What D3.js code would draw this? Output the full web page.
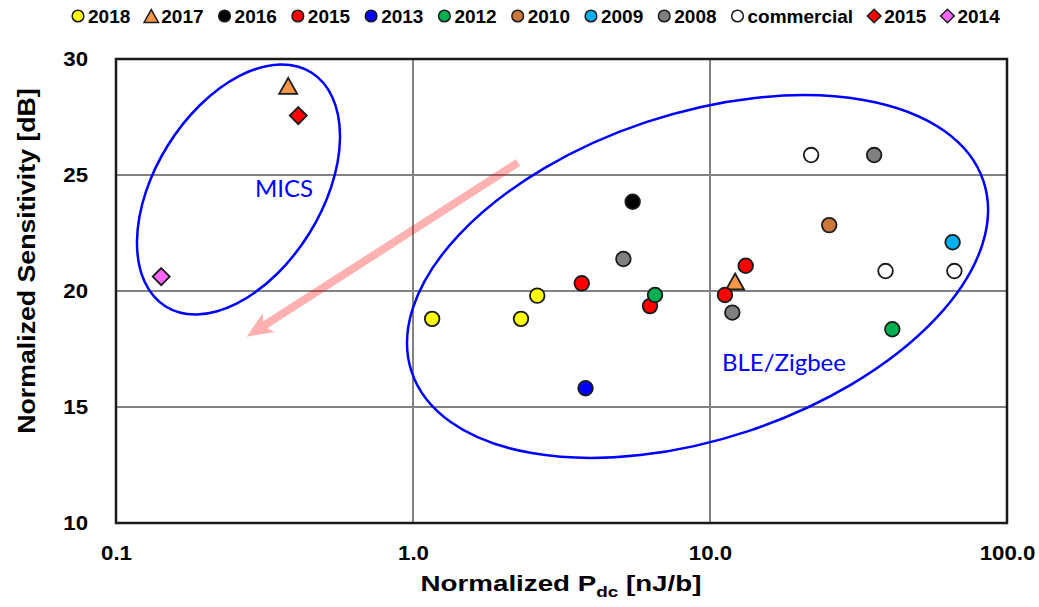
<!DOCTYPE html>
<html>
<head>
<meta charset="utf-8">
<script src="https://cdn.jsdelivr.net/npm/d3@7"></script>
<style>
  html, body { margin: 0; padding: 0; background: #fff; }
  svg { display: block; }
</style>
</head>
<body>
<svg id="chart" width="1039" height="607"></svg>
<script>
// Sensitivity vs. energy efficiency of published receivers
const seriesNames = ["2018", "2017", "2016", "2015", "2013", "2012", "2010", "2009", "2008", "commercial", "2015", "2014"];

const pdc2018 = [1.16, 2.31, 2.62];
const sens2018 = [18.8, 18.8, 19.8];
const pdc2017 = [0.38, 12.15];
const sens2017 = [28.84, 20.41];
const pdc2016 = [5.49];
const sens2016 = [23.85];
const pdc2015 = [3.70, 6.28, 11.23, 13.19];
const sens2015 = [20.33, 19.35, 19.83, 21.09];
const pdc2013 = [3.81];
const sens2013 = [15.81];
const pdc2012 = [6.53, 41.1];
const sens2012 = [19.83, 18.35];
const pdc2010 = [25.2];
const sens2010 = [22.84];
const pdc2009 = [65.6];
const sens2009 = [22.1];
const pdc2008 = [5.11, 11.89, 35.7];
const sens2008 = [21.38, 19.07, 25.86];
const pdcCommercial = [21.9, 39.0, 66.5];
const sensCommercial = [25.86, 20.86, 20.86];
const pdcMics2015 = [0.411];
const sensMics2015 = [27.56];
const pdcMics2014 = [0.142];
const sensMics2014 = [20.62];

const xTickValues = [0.1, 1, 10, 100];
const xTickLabels = ["0.1", "1.0", "10.0", "100.0"];
const yTickValues = [10, 15, 20, 25, 30];
const yTickLabels = ["10", "15", "20", "25", "30"];

// Group annotations (centre in data units)
const groupLabels = ["MICS", "BLE/Zigbee"];
const groupCentrePdc = [0.2585, 9.08];
const groupCentreSens = [24.375, 20.625];
const groupLabelPdc = [0.368, 10.97];
const groupLabelSens = [24.44, 16.94];

// Trend arrow (from, to) in data units
const arrowPdc = [2.257, 0.2754];
const arrowSens = [25.53, 18.03];

// ---------------------------------------------------------------------------
const seriesX = [pdc2018, pdc2017, pdc2016, pdc2015, pdc2013, pdc2012, pdc2010, pdc2009, pdc2008, pdcCommercial, pdcMics2015, pdcMics2014];
const seriesY = [sens2018, sens2017, sens2016, sens2015, sens2013, sens2012, sens2010, sens2009, sens2008, sensCommercial, sensMics2015, sensMics2014];
const seriesFill = ["#ffff00", "#f79646", "#000000", "#ff0000", "#0000ff", "#00b050", "#c9773a", "#00b0f0", "#808080", "#ffffff", "#ff0000", "#ff66ff"];
const seriesShape = ["circle", "triangle", "circle", "circle", "circle", "circle", "circle", "circle", "circle", "circle", "diamond", "diamond"];

const margin = { left: 116, right: 1039 - 1007, top: 59, bottom: 607 - 523 };
const W = 1039, H = 607;
const svg = d3.select("#chart");

const x = d3.scaleLog().domain([0.1, 100]).range([margin.left, W - margin.right]);
const y = d3.scaleLinear().domain([10, 30]).range([H - margin.bottom, margin.top]);

const axisFont = "'Liberation Sans', Arial, sans-serif";
const annoFont = "Lato, 'Open Sans', sans-serif";

// Widen a text element horizontally by factor k (keeps its anchor)
function widen(sel, k) {
  sel.each(function () {
    const len = this.getComputedTextLength();
    d3.select(this).attr("textLength", len * k).attr("lengthAdjust", "spacingAndGlyphs");
  });
}

// Gridlines
const grid = svg.append("g");
grid.selectAll("line.gx").data(xTickValues.slice(1, -1)).join("line")
  .attr("x1", d => x(d)).attr("x2", d => x(d))
  .attr("y1", y(30)).attr("y2", y(10))
  .attr("stroke", "#828282").attr("stroke-width", 2);
grid.selectAll("line.gy").data(yTickValues.slice(1, -1)).join("line")
  .attr("y1", d => y(d)).attr("y2", d => y(d))
  .attr("x1", x(0.1)).attr("x2", x(100))
  .attr("stroke", "#828282").attr("stroke-width", 2);

// Axes (labels only; the frame is drawn below)
const xAxis = svg.append("g")
  .attr("transform", `translate(0,560)`)
  .call(d3.axisBottom(x).tickValues(xTickValues).tickFormat((d, i) => xTickLabels[i]).tickSize(0));
xAxis.select(".domain").remove();
xAxis.selectAll("text").attr("font-family", axisFont).attr("font-weight", "bold")
  .attr("font-size", 21).attr("fill", "#000").attr("y", 0).attr("dy", 0).call(widen, 1.06);

const yAxis = svg.append("g")
  .attr("transform", `translate(${x(0.1) - 28},0)`)
  .call(d3.axisLeft(y).tickValues(yTickValues).tickFormat((d, i) => yTickLabels[i]).tickSize(0));
yAxis.select(".domain").remove();
yAxis.selectAll("text").attr("font-family", axisFont).attr("font-weight", "bold")
  .attr("font-size", 21).attr("fill", "#000").attr("x", 0).call(widen, 1.06);

// Plot frame
svg.append("rect")
  .attr("x", x(0.1)).attr("y", y(30))
  .attr("width", x(100) - x(0.1)).attr("height", y(10) - y(30))
  .attr("fill", "none").attr("stroke", "#1a1a1a").attr("stroke-width", 2.5);

// Axis titles
svg.append("text")
  .attr("transform", `translate(35,261) rotate(-90)`)
  .attr("text-anchor", "middle")
  .attr("font-family", axisFont).attr("font-weight", "bold").attr("font-size", 23)
  .text("Normalized Sensitivity [dB]")
  .call(widen, 1.16);

const xt = svg.append("text")
  .attr("x", 561).attr("y", 591)
  .attr("text-anchor", "middle")
  .attr("font-family", axisFont).attr("font-weight", "bold").attr("font-size", 22);
xt.append("tspan").text("Normalized P");
xt.append("tspan").attr("font-size", 15).attr("dy", 6).text("dc");
xt.append("tspan").attr("dy", -6).text(" [nJ/b]");
xt.call(widen, 1.26);

// Trend arrow
const ax0 = x(arrowPdc[0]), ay0 = y(arrowSens[0]);
const ax1 = x(arrowPdc[1]), ay1 = y(arrowSens[1]);
const alen = Math.hypot(ax1 - ax0, ay1 - ay0);
const ux = (ax1 - ax0) / alen, uy = (ay1 - ay0) / alen;
const headLen = 26, headHalf = 11;
const bx = ax1 - ux * headLen, by = ay1 - uy * headLen;
const arrow = svg.append("g").attr("opacity", 0.3);
arrow.append("path")
  .attr("d", `M${ax0},${ay0}L${bx + ux * 6},${by + uy * 6}`)
  .attr("stroke", "#ff0000").attr("stroke-width", 8).attr("fill", "none");
arrow.append("path")
  .attr("d", `M${ax1},${ay1}L${bx - uy * headHalf},${by + ux * headHalf}L${bx + ux * 6},${by + uy * 6}L${bx + uy * headHalf},${by - ux * headHalf}Z`)
  .attr("fill", "#ff0000");

// Group ellipses
const ellipseRx = [137.8, 301.4];
const ellipseRy = [83.3, 162.7];
const ellipseRot = [-58.1, -18.45];
groupLabels.forEach((lab, i) => {
  svg.append("ellipse")
    .attr("transform", `translate(${x(groupCentrePdc[i])},${y(groupCentreSens[i])}) rotate(${ellipseRot[i]})`)
    .attr("rx", ellipseRx[i]).attr("ry", ellipseRy[i])
    .attr("fill", "none").attr("stroke", "#0000ff").attr("stroke-width", 2.5);
  svg.append("text")
    .attr("x", x(groupLabelPdc[i])).attr("y", y(groupLabelSens[i]))
    .attr("text-anchor", i === 0 ? "middle" : "start")
    .attr("dominant-baseline", "central")
    .attr("font-family", annoFont).attr("font-size", 24).attr("fill", "#0000ff")
    .text(lab);
});

// Marker shapes
function shapePath(shape, cx, cy, s) {
  if (shape === "triangle") {
    const hw = 9 * s, hh = 8 * s;
    return `M${cx},${cy - hh}L${cx + hw},${cy + hh}L${cx - hw},${cy + hh}Z`;
  }
  if (shape === "diamond") {
    const r = 8.5 * s;
    return `M${cx},${cy - r}L${cx + r},${cy}L${cx},${cy + r}L${cx - r},${cy}Z`;
  }
  const r = 7.3 * s;
  return `M${cx - r},${cy}A${r},${r} 0 1,0 ${cx + r},${cy}A${r},${r} 0 1,0 ${cx - r},${cy}Z`;
}

// Data points
const pts = svg.append("g");
seriesNames.forEach((name, i) => {
  const rows = seriesX[i].map((v, j) => ({ pdc: v, sens: seriesY[i][j] }));
  pts.append("g").selectAll("path").data(rows).join("path")
    .attr("d", d => shapePath(seriesShape[i], x(d.pdc), y(d.sens), 1))
    .attr("fill", seriesFill[i])
    .attr("stroke", "#1a1a1a").attr("stroke-width", 1.8)
    .attr("stroke-linejoin", "miter");
});

// Legend
const legend = svg.append("g").attr("transform", "translate(0,16)");
let lx = 78;
seriesNames.forEach((name, i) => {
  legend.append("path")
    .attr("d", shapePath(seriesShape[i], lx, 0, 0.8))
    .attr("fill", seriesFill[i])
    .attr("stroke", "#1a1a1a").attr("stroke-width", 1.5);
  const t = legend.append("text")
    .attr("x", lx + 10).attr("y", 0)
    .attr("dominant-baseline", "central")
    .attr("font-family", axisFont).attr("font-weight", "bold").attr("font-size", 19)
    .text(name);
  lx = lx + 10 + t.node().getComputedTextLength() + 21;
});
</script>
</body>
</html>
